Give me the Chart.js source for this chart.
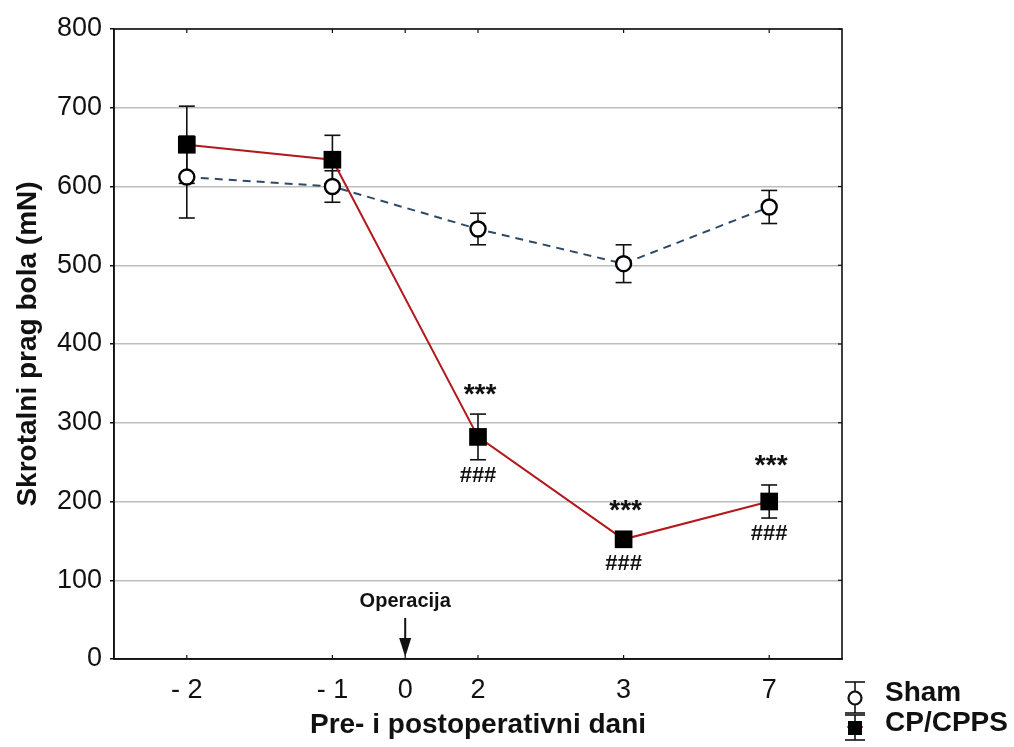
<!DOCTYPE html>
<html>
<head>
<meta charset="utf-8">
<script src="https://cdn.jsdelivr.net/npm/chart.js@4.4.1/dist/chart.umd.min.js"></script>
<style>
  html, body { margin: 0; padding: 0; background: #fff; }
</style>
</head>
<body>
<canvas id="chart" width="1014" height="747"></canvas>
<script>
// --- Data ---
const dayLabels = ["- 2", "- 1", "0", "2", "3", "7"];
const dayPositions = [0, 1, 1.5, 2, 3, 4]; // uneven spacing of the original axis
const measuredDays = ["- 2", "- 1", "2", "3", "7"];
const operationDay = "0";

const shamMean = [612, 600, 546, 502, 574];
const shamSem = [52, 20, 20, 24, 21];
const cpMean = [653, 634, 282, 152, 200];
const cpSem = [49, 31, 29, 5, 21];

const starLabels = ["", "", "***", "***", "***"];
const hashLabels = ["", "", "###", "###", "###"];

const yTicks = [0, 100, 200, 300, 400, 500, 600, 700, 800];

const FONT = "'Liberation Sans', Arial, sans-serif";
const RED = "#b3181c";
const BLUE = "#2f4a68";

const xOf = (day) => dayPositions[dayLabels.indexOf(day)];

const toPoints = (values) => values.map((v, i) => ({ x: xOf(measuredDays[i]), y: v }));

// --- Overlay: error bars, significance marks, arrow, frame, legend ---
function seg(ctx, x1, y1, x2, y2) {
  ctx.beginPath();
  ctx.moveTo(x1, y1);
  ctx.lineTo(x2, y2);
  ctx.stroke();
}

const overlay = {
  id: "overlay",
  beforeDatasetsDraw(chart) {
    const { ctx, scales: { x, y } } = chart;
    ctx.save();
    ctx.strokeStyle = "#111";
    ctx.lineWidth = 1.6;
    [[shamMean, shamSem], [cpMean, cpSem]].forEach(([means, sems]) => {
      means.forEach((m, i) => {
        const px = x.getPixelForValue(xOf(measuredDays[i]));
        const top = y.getPixelForValue(m + sems[i]);
        const bot = y.getPixelForValue(m - sems[i]);
        seg(ctx, px, top, px, bot);
        seg(ctx, px - 8, top, px + 8, top);
        seg(ctx, px - 8, bot, px + 8, bot);
      });
    });
    ctx.restore();
  },
  afterDatasetsDraw(chart) {
    const { ctx, chartArea: a, scales: { x, y } } = chart;
    ctx.save();

    // significance marks around the CP/CPPS points
    ctx.fillStyle = "#111";
    ctx.textAlign = "center";
    ctx.textBaseline = "middle";
    cpMean.forEach((m, i) => {
      const px = x.getPixelForValue(xOf(measuredDays[i]));
      const upper = Math.min(y.getPixelForValue(m + cpSem[i]), y.getPixelForValue(m) - 9);
      const lower = Math.max(y.getPixelForValue(m - cpSem[i]), y.getPixelForValue(m) + 9);
      ctx.font = "bold 28px " + FONT;
      if (starLabels[i]) ctx.fillText(starLabels[i], px + 2, upper - 19);
      ctx.font = "bold 22px " + FONT;
      if (hashLabels[i]) ctx.fillText(hashLabels[i], px, lower + 16);
    });

    // operation marker
    const ox = x.getPixelForValue(xOf(operationDay));
    ctx.font = "bold 20px " + FONT;
    ctx.fillText("Operacija", ox, a.bottom - 58);
    ctx.strokeStyle = "#111";
    ctx.lineWidth = 2;
    seg(ctx, ox, a.bottom - 41, ox, a.bottom - 18);
    ctx.beginPath();
    ctx.moveTo(ox - 6, a.bottom - 21);
    ctx.lineTo(ox + 6, a.bottom - 21);
    ctx.lineTo(ox, a.bottom - 2);
    ctx.closePath();
    ctx.fill();

    // frame and inner tick marks
    ctx.lineWidth = 1.6;
    ctx.strokeRect(a.left, a.top, a.right - a.left, a.bottom - a.top);
    ctx.lineWidth = 1.2;
    dayPositions.forEach((p) => {
      const px = x.getPixelForValue(p);
      seg(ctx, px, a.top, px, a.top + 4);
      seg(ctx, px, a.bottom, px, a.bottom - 4);
    });
    yTicks.forEach((v) => {
      const py = y.getPixelForValue(v);
      seg(ctx, a.right, py, a.right - 4, py);
    });
    ctx.restore();
  },
  afterDraw(chart) {
    const { ctx, chartArea: a } = chart;
    ctx.save();
    const sx = a.right + 13;
    const tx = a.right + 43;

    // Sham entry
    ctx.strokeStyle = "#111";
    ctx.lineWidth = 1.6;
    let cy = a.bottom + 39;
    seg(ctx, sx, cy - 16, sx, cy + 15);
    seg(ctx, sx - 10, cy - 16, sx + 10, cy - 16);
    seg(ctx, sx - 10, cy + 15, sx + 10, cy + 15);
    ctx.beginPath();
    ctx.arc(sx, cy, 6.5, 0, Math.PI * 2);
    ctx.fillStyle = "#fff";
    ctx.fill();
    ctx.lineWidth = 2.2;
    ctx.stroke();

    // CP/CPPS entry
    cy = a.bottom + 71;
    ctx.lineWidth = 1.6;
    seg(ctx, sx, cy - 15, sx, cy + 10);
    seg(ctx, sx - 10, cy - 15, sx + 10, cy - 15);
    seg(ctx, sx - 10, cy + 10, sx + 10, cy + 10);
    ctx.strokeStyle = RED;
    ctx.lineWidth = 1.5;
    seg(ctx, sx - 8, cy - 3, sx + 8, cy - 3);
    ctx.fillStyle = "#000";
    ctx.fillRect(sx - 7, cy - 9, 14, 14);

    ctx.fillStyle = "#111";
    ctx.font = "bold 28px " + FONT;
    ctx.textAlign = "left";
    ctx.textBaseline = "middle";
    ctx.fillText("Sham", tx, a.bottom + 34);
    ctx.fillText("CP/CPPS", tx, a.bottom + 64);
    ctx.restore();
  },
};

// --- Chart ---
new Chart(document.getElementById("chart"), {
  type: "line",
  data: {
    datasets: [
      {
        label: "CP/CPPS",
        data: toPoints(cpMean),
        borderColor: RED,
        borderWidth: 2,
        pointStyle: "rect",
        pointRadius: 12.5,
        pointBackgroundColor: "#000",
        pointBorderColor: "#000",
        pointBorderWidth: 0,
      },
      {
        label: "Sham",
        data: toPoints(shamMean),
        borderColor: BLUE,
        borderWidth: 2,
        borderDash: [8, 6],
        pointStyle: "circle",
        pointRadius: 7.5,
        pointBackgroundColor: "#fff",
        pointBorderColor: "#000",
        pointBorderWidth: 2.4,
      },
    ],
  },
  options: {
    responsive: false,
    animation: false,
    layout: { padding: { left: 0, top: 29, right: 172, bottom: 0 } },
    plugins: { legend: { display: false }, tooltip: { enabled: false } },
    scales: {
      x: {
        type: "linear",
        min: -0.5,
        max: 4.5,
        afterBuildTicks: (scale) => {
          scale.ticks = dayPositions.map((p) => ({ value: p }));
        },
        afterFit: (scale) => { scale.height = 88; },
        ticks: {
          autoSkip: false,
          maxRotation: 0,
          padding: 15,
          color: "#111",
          font: { family: FONT, size: 27 },
          callback: (value) => dayLabels[dayPositions.indexOf(value)],
        },
        grid: { drawOnChartArea: false, drawTicks: false },
        border: { display: true, color: "#111", width: 1.6 },
        title: {
          display: true,
          text: "Pre- i postoperativni dani",
          color: "#111",
          font: { family: FONT, size: 28, weight: "bold" },
          padding: { top: 0, bottom: 5 },
        },
      },
      y: {
        min: 0,
        max: 800,
        afterBuildTicks: (scale) => {
          scale.ticks = yTicks.map((v) => ({ value: v }));
        },
        afterFit: (scale) => { scale.width = 114; },
        ticks: {
          padding: 8,
          color: "#111",
          font: { family: FONT, size: 27 },
        },
        grid: { color: "#bdbdbd", lineWidth: 1.5, tickLength: 4, tickColor: "#111" },
        border: { display: true, color: "#111", width: 1.6 },
        title: {
          display: true,
          text: "Skrotalni prag bola (mN)",
          color: "#111",
          font: { family: FONT, size: 28, weight: "bold" },
          padding: { top: 11, bottom: 0 },
        },
      },
    },
  },
  plugins: [overlay],
});
</script>
</body>
</html>
